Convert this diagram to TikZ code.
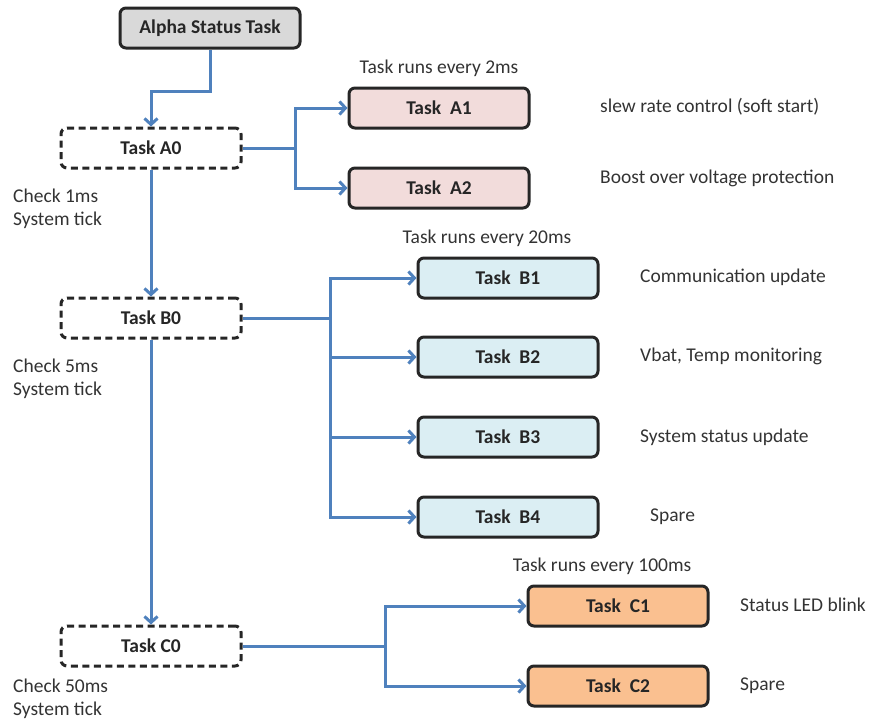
\documentclass[tikz,border=0pt]{standalone}
\usepackage{fontspec}
\setmainfont{Carlito}
\usetikzlibrary{arrows.meta}
\definecolor{flow}{HTML}{4F81BD}
\definecolor{grayfill}{HTML}{D9D9D9}
\definecolor{pinkfill}{HTML}{F2DCDB}
\definecolor{bluefill}{HTML}{DBEEF3}
\definecolor{orangefill}{HTML}{FAC090}
\begin{document}
\begin{tikzpicture}[x=1pt,y=-1pt,
  font=\fontsize{19.5}{23}\selectfont,
  taskbox/.style={draw=black!85, line width=3pt, rounded corners=6pt,
    minimum width=180pt, minimum height=40pt, inner sep=0pt,
    font=\fontsize{19.5}{23}\selectfont\bfseries, text=black!85},
  checkbox/.style={taskbox, dashed, dash pattern=on 7pt off 4.5pt},
  flowline/.style={draw=flow, line width=3pt, -{Straight Barb[length=6pt,width=13pt]}},
  note/.style={anchor=west, inner sep=0pt, text=black!80},
  periodnote/.style={inner sep=0pt, text=black!80}]
\useasboundingbox (0,0) rectangle (869,721);

% top-level task
\node[taskbox, fill=grayfill] (alpha) at (210,28) {Alpha Status Task};

% scheduler checks
\node[checkbox] (a0) at (151,148) {Task A0};
\node[checkbox] (b0) at (151,318) {Task B0};
\node[checkbox] (c0) at (151,646) {Task C0};

\node[note, align=left] (ta) at (13,209) {Check 1ms\\System tick};
\node[note, align=left] (tb) at (13,379) {Check 5ms\\System tick};
\node[note, align=left] (tc) at (13,699) {Check 50ms\\System tick};

% 2ms group
\node[taskbox, fill=pinkfill] (a1) at (439,108) {Task\ \ A1};
\node[taskbox, fill=pinkfill] (a2) at (439,188) {Task\ \ A2};
\node[periodnote] (pa) at (439,68) {Task runs every 2ms};
\node[note] (da1) at (600,107) {slew rate control (soft start)};
\node[note] (da2) at (600,178) {Boost over voltage protection};

% 20ms group
\node[taskbox, fill=bluefill] (b1) at (508,278) {Task\ \ B1};
\node[taskbox, fill=bluefill] (b2) at (508,357) {Task\ \ B2};
\node[taskbox, fill=bluefill] (b3) at (508,437) {Task\ \ B3};
\node[taskbox, fill=bluefill] (b4) at (508,517) {Task\ \ B4};
\node[periodnote] (pb) at (487,238) {Task runs every 20ms};
\node[note] (db1) at (640,277) {Communication update};
\node[note] (db2) at (640,356) {Vbat, Temp monitoring};
\node[note] (db3) at (640,437) {System status update};
\node[note] (db4) at (650,517) {Spare};

% 100ms group
\node[taskbox, fill=orangefill] (c1) at (618,606) {Task\ \ C1};
\node[taskbox, fill=orangefill] (c2) at (618,686) {Task\ \ C2};
\node[periodnote] (pc) at (602,566) {Task runs every 100ms};
\node[note] (dc1) at (740,605) {Status LED blink};
\node[note] (dc2) at (740,686) {Spare};

% branch points
\coordinate (ja) at (295,148);
\coordinate (jb) at (330,318);
\coordinate (jc) at (385,646);

% main chain
\draw[flowline] (alpha.south) -- ++(0,42) -| (a0.north);
\draw[flowline] (a0.south) -- (b0.north);
\draw[flowline] (b0.south) -- (c0.north);

% fan-out to the periodic tasks
\draw[draw=flow, line width=3pt] (a0.east) -- (ja);
\draw[flowline] (ja) |- (a1.west);
\draw[flowline] (ja) |- (a2.west);

\draw[draw=flow, line width=3pt] (b0.east) -- (jb);
\draw[flowline] (jb) |- (b1.west);
\draw[flowline] (jb) |- (b2.west);
\draw[flowline] (jb) |- (b3.west);
\draw[flowline] (jb) |- (b4.west);

\draw[draw=flow, line width=3pt] (c0.east) -- (jc);
\draw[flowline] (jc) |- (c1.west);
\draw[flowline] (jc) |- (c2.west);
\end{tikzpicture}
\end{document}
